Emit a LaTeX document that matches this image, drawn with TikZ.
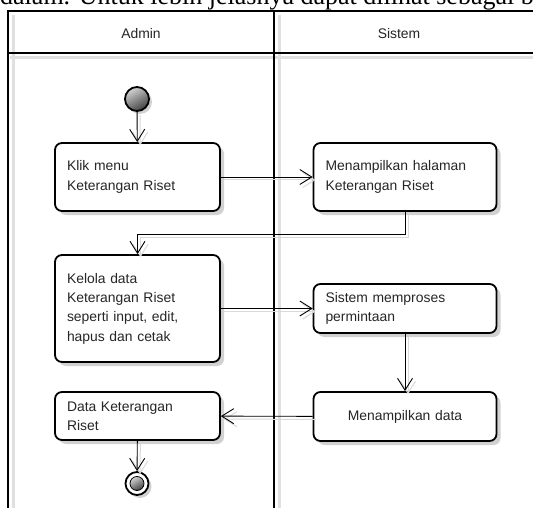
\documentclass[tikz,border=0pt]{standalone}
\usepackage{fontspec}
\setmainfont{Liberation Sans}
\newfontfamily\serifpage{Liberation Serif}
\usetikzlibrary{arrows.meta,shadows,calc}
\begin{document}
\begin{tikzpicture}[x=1pt,y=-1pt,
  lane/.style={line width=2pt,black},
  laneshadow/.style={line width=3pt,black!12},
  act/.style={draw,line width=1.8pt,rounded corners=7pt,fill=white,
    font=\fontsize{13.9}{19.3}\selectfont,text=black!85,align=left,
    inner xsep=12pt,inner ysep=0pt,
    drop shadow={shadow xshift=4pt,shadow yshift=-4pt,fill=black!18,opacity=1}},
  lbox/.style={act,text width=141pt,minimum width=165pt},
  rbox/.style={act,text width=159pt,minimum width=183pt},
  flow/.style={line width=0.9pt,black,-{Straight Barb[length=12pt,width=15pt,line width=0.9pt]}},
  flowshadow/.style={line width=1pt,black!15,-{Straight Barb[length=12pt,width=15pt,line width=1pt]},
    transform canvas={xshift=3pt,yshift=-3pt}},
  hdr/.style={font=\fontsize{13.9}{16}\selectfont,text=black!85},
  startnode/.style={circle,draw,line width=1.8pt,minimum size=24pt,inner sep=0pt,
    top color=gray!35,bottom color=black!75,shading angle=30,
    drop shadow={shadow xshift=3pt,shadow yshift=-3pt,fill=black!18,opacity=1}},
]
\useasboundingbox (0,0) rectangle (533,508);
\begin{scope}
\clip (0,0) rectangle (533,508);
% cut-off line of page text
\node[anchor=base west,inner sep=0pt,font=\serifpage\fontsize{26}{29}\selectfont] (pagetext) at (0,4.5)
  {dalam. Untuk lebih jelasnya dapat dilihat sebagai berikut};
\fill[white] (0,11) rectangle (533,508);
% lane shadows
\draw[laneshadow] (13.5,15) -- (13.5,508);
\draw[laneshadow] (279,15) -- (279,508);
\draw[laneshadow] (10,58) -- (540,58);
% lanes
\draw[lane] (8,510) -- (8,11) -- (540,11);
\draw[lane] (8,53) -- (540,53);
\draw[lane] (274,11) -- (274,510);
\end{scope}
\node[hdr] (hadmin) at (141,34) {Admin};
\node[hdr] (hsistem) at (399,34) {Sistem};

\node[startnode] (start) at (137,99) {};

\node[lbox,minimum height=68pt] (b1) at (137.5,177) {Klik menu\\Keterangan Riset};
\node[rbox,minimum height=68pt] (b2) at (405,177) {Menampilkan halaman\\Keterangan Riset};
\node[lbox,minimum height=107pt] (b3) at (137.5,308.5) {Kelola data\\Keterangan Riset\\seperti input, edit,\\hapus dan cetak};
\node[rbox,minimum height=49pt] (b4) at (405,308.5) {Sistem memproses\\permintaan};
\node[rbox,minimum height=49pt,align=center] (b5) at (405,416.5) {Menampilkan data};
\node[lbox,minimum height=48pt] (b6) at (137.5,416) {Data Keterangan\\Riset};

\node[circle,draw,line width=1.8pt,minimum size=23pt,inner sep=0pt,
  drop shadow={shadow xshift=3pt,shadow yshift=-3pt,fill=black!18,opacity=1},fill=white] (end) at (137,483.5) {};
\node[circle,minimum size=14pt,inner sep=0pt,draw=black,line width=0.8pt,
  top color=gray!35,bottom color=black!75,shading angle=30] (endin) at (end.center) {};

\coordinate (k) at (0,234);

% connector shadows
\draw[flowshadow] (start) -- (b1);
\draw[flowshadow] (b1) -- (b2);
\draw[flowshadow] (b2.south) -- (b2.south |- k) -| (b3.north);
\draw[flowshadow] (b3) -- (b4);
\draw[flowshadow] (b4) -- (b5);
\draw[flowshadow] (b5) -- (b6);
\draw[flowshadow] (b6) -- (end);
% connectors
\draw[flow] (start) -- (b1);
\draw[flow] (b1) -- (b2);
\draw[flow] (b2.south) -- (b2.south |- k) -| (b3.north);
\draw[flow] (b3) -- (b4);
\draw[flow] (b4) -- (b5);
\draw[flow] (b5) -- (b6);
\draw[flow] (b6) -- (end);
\end{tikzpicture}
\end{document}
